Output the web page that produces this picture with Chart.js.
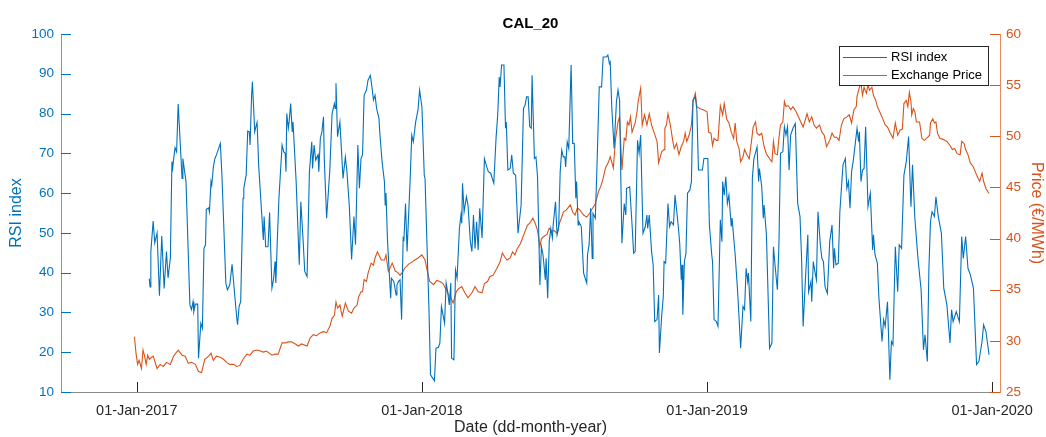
<!DOCTYPE html>
<html>
<head>
<meta charset="utf-8">
<title>CAL_20</title>
<script src="https://cdn.jsdelivr.net/npm/chart.js@4/dist/chart.umd.min.js"></script>
<style>
  html, body { margin: 0; padding: 0; background: #fff; }
  #grafico { display: block; }
</style>
</head>
<body>
<canvas id="grafico" width="1046" height="437"></canvas>
<script>
// days counted from 01-Jan-2017
const tickDays = [0, 365, 730, 1095];
const tickLabels = ['01-Jan-2017', '01-Jan-2018', '01-Jan-2019', '01-Jan-2020'];

const rsiDays = [
  16,17,18,21,23,26,29,32,35,38, 40,43,45,46,47,49,51,53,58,59,
  63,68,70,72,73,75,78,79,82,84, 86,88,89,92,93,95,96,98,100,102,
  107,109,114,116,119,122,125,128,129,131, 133,136,137,140,142,144,145,147,148,151,
  153,154,156,162,163,165,168,170,173,175, 177,178,180,182,186,188,190,191,192,194,
  195,197,199,200,204,208,210,213,215,218, 221,224,225,227,229,232,233,235,237,239,
  240,243,247,250,253,254,255,257,260,264, 267,269,272,275,278,280,283,285,287,289,
  291,294,296,299,301,303,305,307,310,311, 314,317,318,319,321,325,326,329,332,333,
  335,337,339,341,342,344,346,350,352,354, 357,360,362,365,368,369,372,374,376,380,
  381,383,386,388,390,392,394,396,398,400, 402,403,406,408,410,413,415,416,417,419,
  422,424,427,429,431,433,435,437,439,442, 445,448,450,453,457,460,462,464,465,467,
  470,472,473,475,478,480,482,485,488,492, 495,497,499,501,503,505,506,509,511,513,
  516,518,520,523,524,526,528,530,532,533, 536,538,540,542,544,546,548,549,551,553,
  555,556,558,560,562,563,565,566,569,572, 574,576,577,579,581,583,584,587,589,592,
  595,597,601,603,605,606,608,611,614,616, 618,621,624,626,627,631,634,636,638,640,
  641,643,645,648,651,653,654,656,659,661, 663,666,668,669,672,674,675,677,680,682,
  684,687,689,691,693,695,697,698,699,701, 703,705,708,710,712,715,717,719,724,726,
  731,733,736,737,739,742,744,747,749,750, 752,754,756,758,761,762,766,769,771,773,
  776,778,780,782,783,786,788,790,794,796, 797,800,802,803,806,810,813,815,817,820,
  822,824,827,829,831,833,835,837,840,843, 846,849,851,853,856,859,860,863,864,866,
  868,870,872,875,877,879,881,884,887,890, 892,893,895,898,900,902,904,907,909,911,
  913,915,917,919,922,924,925,927,929,931, 933,936,939,942,943,945,948,950,954,956,
  958,961,964,966,968,971,974,976,979,982, 985,988,991,993,996,1000,1004,1007,1009,1012,
  1014,1016,1018,1021,1023,1026,1030,1033,1037,1041, 1043,1045,1049,1053,1056,1058,1061,1064,1067,1071,
  1075,1078,1082,1084,1087,1091
];
const rsiValues = [
  38.5,36.4,45.3,53,47.5,50,34.2,49.2,36,45.3, 38.7,43.7,67.9,66.3,68.3,71.4,70.4,82.4,63.7,68.7,
  62.9,31.9,30.7,32.7,30.2,32.1,32.1,18.5,27.3,26, 46.1,47,55.9,56.3,55.3,62.9,62,66.6,68.7,69.6,
  72.5,64.5,37.4,35.7,36.9,42.1,35.2,28.6,26.9,31.5, 32.7,58.7,61.2,64.5,75.6,75.4,72.1,84.6,88,75.4,
  77.1,77.8,67.1,48.2,54.1,46.5,46.5,55.1,36.1,38.2, 42.8,37.4,48.7,58.8,72.1,70.4,70,65.4,80,76.3,
  77.9,82.5,75.4,77.9,62.9,42,57.8,47.8,40.3,39, 65.4,72.9,66.2,72.1,68.3,69.6,65.4,73.8,75.4,79.2,
  68.7,53.7,65.4,80,82.5,81.3,87.6,74.2,77.9,63.7, 69.1,65.4,57,43.3,54.1,47,72.1,61.2,68.7,69.6,
  84.6,85.9,88.4,89.6,86.7,83.4,84.6,81.3,78.8,75.4, 67.9,62.9,57,60,47.8,33.6,38.6,37.8,34.4,36.9,
  37.8,38.2,28.2,48.7,48.3,57.4,45.3,63.7,74.6,72.9, 77.9,80.9,85.9,81.7,64.5,63.7,43.6,31.1,14.3,13.1,
  12.8,21,21.2,22.3,31.5,29.4,27.3,37.4,35.2,31.9, 37.4,18.5,18.1,40.7,38.6,51.1,54.5,52.4,62.5,55.3,
  59.1,57,47.8,45.3,54.5,46.1,52.8,45.7,56.2,48.7, 68.7,66.6,65.4,65,62.5,74.2,79.6,89.2,86.7,92.2,
  92.2,76.3,77.9,65.8,66.2,69.6,65,64.5,49.9,57, 81.3,82.1,84.2,84.2,76.7,76.3,89.6,68.7,69.1,64.1,
  36.9,46.5,44.5,38.2,43.6,33.6,47.8,51.1,48.7,52, 57.8,49.5,51.1,65.4,70.8,69.1,69.1,66.6,72.9,71.2,
  85.5,92.2,72.5,72.5,58.7,62.9,52,52.8,51.6,39.9, 38.6,37.4,44.5,47,56.2,43.6,54.9,53.7,66.2,86.7,
  86.7,94.2,94.2,94.7,92.6,93,81.7,71.2,83,85.9, 83.4,47.4,57.4,54.5,61.2,61.6,52,44.9,45.3,63.7,
  73.3,70,74.6,49.9,51.6,54.5,51.1,54.5,45.3,42, 27.7,28.2,34.4,19.8,29.4,34,42.8,42.4,57.4,51.6,
  52.8,52,59.5,55.8,52,47.4,38.2,42,29.4,42.8, 44.9,60,60.8,62.9,83.4,84.2,80.9,65.8,65.8,68.7,
  68.7,52,44.5,42.8,28.2,27.7,26.5,53.3,47.8,62.9, 59.5,64.1,57.4,59.5,51.6,53.7,44.5,35.7,28.6,21,
  31.5,30.7,41.1,37.8,39.9,27.7,63.7,68.7,71.6,62.9, 66.2,61.6,53.7,57,49.5,21,22.3,46.5,42,35.7,
  47,70,70.4,76.7,74.6,76.7,65.8,74.6,76.3,77.5, 57.4,54.1,43.6,26.5,38.6,49.5,35.2,37.8,32.7,42.8,
  40.3,38.2,55.3,47,43.6,42.8,36.5,34.8,47.8,52, 41.1,46.1,42,42.4,55.3,61.2,67.1,68.7,61.2,62.9,
  56.2,65.4,67.9,71.2,76.3,72.9,75.4,62.9,65.8,66.2, 76.7,56.6,60,45.7,49.5,44.5,42.4,33.6,22.7,28.2,
  26.5,32.7,13.1,22.7,21.9,46.5,35.2,47,46.1,64.5, 67.9,74.2,56.6,67.1,53.7,43.6,35.7,20.6,24.4,17.7,
  41.1,52.8,55.3,54.1,59.1,54.1,49.9,36.1,31.9,22.3, 30.7,27.7,30.2,27.7,49.1,43.6,49.1,41.1,39.5,36.1,
  16.9,17.7,22.7,26.9,25.2,19.4
];

const priceDays = [
  -3,-1,1,3,6,8,10,12,14,16, 19,21,26,30,34,38,43,47,51,53,
  58,62,66,70,75,79,83,87,92,95, 98,102,107,111,115,119,124,128,132,136,
  141,145,149,154,158,162,166,173,177,181, 186,190,194,198,203,207,211,218,222,226,
  230,235,239,243,247,250,253,255,257,260, 263,267,271,275,278,282,284,287,289,291,
  294,296,300,303,305,308,310,313,317,319, 322,324,327,331,334,337,340,343,348,352,
  356,360,365,369,372,375,380,384,388,392, 396,399,402,405,409,412,416,420,424,429,
  433,437,442,445,449,452,456,461,465,468, 471,474,478,481,484,487,491,494,497,500,
  503,507,510,513,516,518,521,525,528,531, 534,538,541,544,546,550,555,558,561,564,
  567,572,576,580,582,587,591,594,597,600, 604,606,608,610,613,616,618,621,624,626,
  628,630,632,634,638,640,642,645,647,650, 653,656,659,662,666,668,672,675,676,678,
  680,683,686,688,691,694,697,700,702,704, 707,710,712,715,717,721,725,730,732,735,
  737,739,742,744,747,750,752,755,758,761, 764,766,768,771,773,776,778,781,784,787,
  789,792,794,797,800,803,806,810,813,815, 817,820,822,824,827,829,831,834,837,840,
  844,847,850,853,858,861,864,867,870,874, 877,880,883,887,890,893,896,899,902,905,
  909,912,915,918,921,922,925,927,929,931, 934,936,938,941,943,946,948,951,955,958,
  961,964,968,971,974,977,980,982,985,987, 989,991,992,994,996,998,1002,1005,1008,1011,
  1015,1016,1019,1021,1023,1025,1028,1032,1037,1041, 1044,1047,1050,1054,1056,1059,1061,1064,1067,1071,
  1074,1077,1079,1082,1084,1087,1091
];
const priceValues = [
  30.4,28.8,27.7,28.1,27.3,29.1,28.5,27.7,28.6,28.2, 28.4,28.5,27.3,27.7,27.5,27.9,27.7,28.5,28.9,29.1,
  28.6,28.5,27.8,27.9,27.7,27,26.9,28.2,28.5,28.8, 28.1,28.5,28.4,28.2,27.9,27.7,27.7,27.5,27.6,28.2,
  28.7,28.6,29,29.1,29,28.9,29,28.6,28.7,28.7, 29.8,29.8,29.9,29.9,29.7,29.5,29.7,29.5,30.3,30.6,
  30.5,30.8,30.9,30.8,31.4,32.2,32.5,33.8,33.2,33.5, 32.4,33.7,32.9,32.7,33.2,33.5,34.3,34.8,34.8,36,
  35.8,36.6,37.6,37.4,38.1,38.7,38.4,37.9,37.9,38.4, 36.8,37.1,37.6,36.8,36.7,36.4,36.7,37.1,37.5,37.7,
  37.9,38.1,38.4,37.9,36.8,35.8,35.5,35.9,35.8,35.6, 35,34.5,34.2,33.7,34.8,35.1,35.3,34.7,34.2,34.7,
  35.3,34.8,34.7,35.6,35.8,36.3,36.4,37.1,37.7,38.6, 38.2,37.9,38.1,38.7,38.4,39,39.5,40.1,40.7,41.3,
  41.5,42,41.5,40.8,39.2,40,40.2,40.4,41,40.7, 40.8,40.5,41.5,42.1,42.6,42.8,43.3,42.6,42.3,43,
  42.8,42.3,42.1,42.5,42.8,43.4,44.6,45.1,45.9,46.9, 47.5,48,47.5,46.9,49.8,51.4,51.9,46.7,49.8,49.6,
  51.4,51.1,51.9,50.4,51.3,52.2,53.5,54.7,51.1,52.1, 51.1,52.2,51.1,50.4,49.5,47.4,48.5,48.7,50.8,51.1,
  52.2,51.1,49.6,48.8,49.3,48.2,49,49.5,50.3,49.5, 50.1,51.1,53.4,54.2,52.9,52.7,52.6,52.4,50.4,50.3,
  49.1,49.8,49.6,49.6,53,52.1,53.2,51.7,51.3,50.4, 49.8,51.3,49.5,48.8,47.5,48,48.7,48.2,47.8,49.6,
  50.9,51.4,50.3,50.1,50.3,49,48.3,47.8,47.5,49.5, 48.3,48.2,49.8,51.1,51.4,53.4,52.9,53,52.6,52.9,
  52.4,51.9,51.4,50.9,52.2,51.4,51.9,51.1,50.8,51.1, 50.4,50.1,49,49.6,50.3,49.9,49.9,49.6,51.1,51.7,
  51.9,52.1,51.3,52.6,52.9,53.9,54.8,55.2,54,54.8, 54.2,55,54.5,54.8,54,53.5,52.9,52.4,51.7,51.1,
  50.9,50.4,49.8,51.3,50.1,50.6,50.7,53.2,53.5,52.9, 54.3,53.4,52.1,52.7,52.4,51.4,51.4,49.8,49.6,49.8,
  50.1,51.3,51.7,51.3,51.4,50.3,49.8,49.7,49.5,49.1, 48.7,48.8,48.3,48.2,49.5,49.3,48.7,48.2,47.4,47,
  46.4,45.9,45.6,46.4,45.6,44.9,44.4
];

const xMin = -97;
const xMax = 1105;

const azul = '#0072BD';
const naranja = '#D95319';
const gris = '#262626';
const fuente = "'Liberation Sans', Arial, Helvetica, sans-serif";

// MATLAB style: tick marks pointing into the plot
const ticksAdentro = {
  id: 'ticksAdentro',
  afterDatasetsDraw(chart) {
    const { ctx, chartArea: a, scales } = chart;
    const largo = 10;
    ctx.save();
    ctx.lineWidth = 1;
    ctx.strokeStyle = gris;
    scales.x.ticks.forEach(t => {
      const px = Math.round(scales.x.getPixelForValue(t.value)) + 0.5;
      ctx.beginPath(); ctx.moveTo(px, a.bottom); ctx.lineTo(px, a.bottom - largo); ctx.stroke();
    });
    ctx.strokeStyle = azul;
    scales.yL.ticks.forEach(t => {
      const py = Math.round(scales.yL.getPixelForValue(t.value)) + 0.5;
      ctx.beginPath(); ctx.moveTo(a.left, py); ctx.lineTo(a.left + largo, py); ctx.stroke();
    });
    ctx.strokeStyle = naranja;
    scales.yR.ticks.forEach(t => {
      const py = Math.round(scales.yR.getPixelForValue(t.value)) + 0.5;
      ctx.beginPath(); ctx.moveTo(a.right, py); ctx.lineTo(a.right - largo, py); ctx.stroke();
    });
    ctx.restore();
  }
};

// title centred over the plot area, not the whole canvas
const tituloCentrado = {
  id: 'tituloCentrado',
  beforeDraw(chart) {
    const t = chart.titleBlock;
    if (t) {
      t.left = chart.chartArea.left;
      t.right = chart.chartArea.right;
      t.width = t.right - t.left;
    }
  }
};

// legend box in the upper right corner of the plot
const leyendaCaja = {
  id: 'leyendaCaja',
  afterDraw(chart) {
    const { ctx, chartArea: a } = chart;
    const w = 149, h = 39;
    const x0 = a.right - 12 - w, y0 = a.top + 12;
    ctx.save();
    ctx.fillStyle = '#fff';
    ctx.fillRect(x0, y0, w, h);
    ctx.strokeStyle = gris;
    ctx.lineWidth = 1;
    ctx.strokeRect(Math.round(x0) + 0.5, Math.round(y0) + 0.5, w, h);
    ctx.font = '13px ' + fuente;
    ctx.textBaseline = 'middle';
    chart.data.datasets.forEach((ds, i) => {
      const y = Math.round(y0 + 11 + i * 17.5) + 0.5;
      ctx.strokeStyle = ds.borderColor;
      ctx.beginPath(); ctx.moveTo(x0 + 4, y); ctx.lineTo(x0 + 48, y); ctx.stroke();
      ctx.fillStyle = '#000';
      ctx.fillText(ds.label, x0 + 52, y);
    });
    ctx.restore();
  }
};

const ctx = document.getElementById('grafico').getContext('2d');
const chart = new Chart(ctx, {
  type: 'line',
  data: {
    datasets: [
      {
        label: 'RSI index',
        data: rsiDays.map((d, i) => ({ x: d, y: rsiValues[i] })),
        borderColor: azul,
        borderWidth: 1.1,
        pointRadius: 0,
        tension: 0,
        yAxisID: 'yL'
      },
      {
        label: 'Exchange Price',
        data: priceDays.map((d, i) => ({ x: d, y: priceValues[i] })),
        borderColor: naranja,
        borderWidth: 1.1,
        pointRadius: 0,
        tension: 0,
        yAxisID: 'yR'
      }
    ]
  },
  options: {
    responsive: false,
    animation: false,
    layout: { padding: 0 },
    plugins: {
      legend: { display: false },
      tooltip: { enabled: false },
      title: {
        display: true,
        text: 'CAL_20',
        color: '#000',
        font: { family: fuente, size: 15, weight: 'bold', lineHeight: 1.2 },
        padding: { top: 15, bottom: 1 }
      }
    },
    scales: {
      x: {
        type: 'linear',
        min: xMin,
        max: xMax,
        afterBuildTicks: s => { s.ticks = tickDays.map(v => ({ value: v })); },
        afterFit: s => { s.height = 45; },
        grid: { display: false, drawTicks: false },
        border: { display: true, color: '#8a8a8a', width: 1 },
        ticks: {
          autoSkip: false, maxRotation: 0, minRotation: 0, padding: 10,
          color: gris,
          font: { family: fuente, size: 14.5 },
          callback: v => tickLabels[tickDays.indexOf(v)]
        },
        title: {
          display: true,
          text: 'Date (dd-month-year)',
          color: gris,
          font: { family: fuente, size: 16 },
          padding: { top: 0, bottom: 0 }
        }
      },
      yL: {
        position: 'left',
        min: 10,
        max: 100,
        afterFit: s => { s.width = 61; },
        grid: { display: false, drawTicks: false },
        border: { display: true, color: '#5da2d6', width: 1 },
        ticks: { stepSize: 10, padding: 7, color: azul, font: { family: fuente, size: 13.5 } },
        title: {
          display: true,
          text: 'RSI index',
          color: azul,
          font: { family: fuente, size: 16 },
          padding: { top: 7, bottom: 0 }
        }
      },
      yR: {
        position: 'right',
        min: 25,
        max: 60,
        afterFit: s => { s.width = 46; },
        grid: { display: false, drawTicks: false },
        border: { display: true, color: '#e88a5e', width: 1 },
        ticks: { stepSize: 5, padding: 6, color: naranja, font: { family: fuente, size: 13.5 } },
        title: {
          display: true,
          text: 'Price (€/MWh)',
          color: naranja,
          font: { family: fuente, size: 16 },
          padding: { top: 0, bottom: 0 }
        }
      }
    }
  },
  plugins: [tituloCentrado, ticksAdentro, leyendaCaja]
});
</script>
</body>
</html>
